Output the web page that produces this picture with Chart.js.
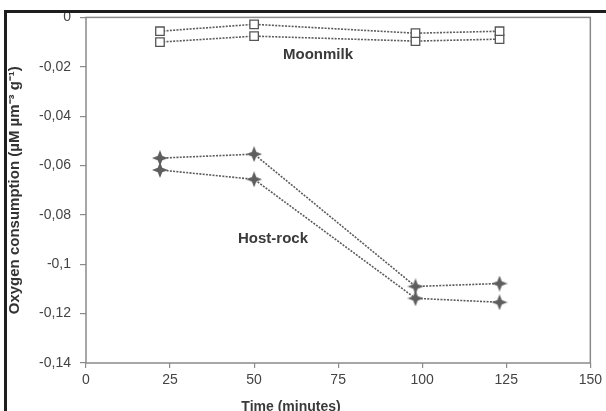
<!DOCTYPE html>
<html>
<head>
<meta charset="utf-8">
<script src="https://cdn.jsdelivr.net/npm/chart.js@4/dist/chart.umd.min.js"></script>
<style>
  html, body { margin: 0; padding: 0; background: #fff; }
  #wrap { width: 606px; height: 411px; }
</style>
</head>
<body>
<div id="wrap"><canvas id="c" width="606" height="411"></canvas></div>
<script>
// ---- data ----
const timeMinutes = [22, 50, 98, 123];
const moonmilkA = [-0.0056, -0.0028, -0.0064, -0.0056];
const moonmilkB = [-0.0100, -0.0076, -0.0096, -0.0088];
const hostRockA = [-0.0570, -0.0554, -0.1090, -0.1078];
const hostRockB = [-0.0618, -0.0656, -0.1138, -0.1154];
const xTicks = [0, 25, 50, 75, 100, 125, 150];
const yTicks = [0, -0.02, -0.04, -0.06, -0.08, -0.1, -0.12, -0.14];
const yTitle = "Oxygen consumption (µM µm⁻³ g⁻¹)";
const xTitle = "Time (minutes)";
const labelMoonmilk = "Moonmilk";
const labelHostRock = "Host-rock";

// 4-point star marker
function makeStar(size, color) {
  const cv = document.createElement('canvas');
  cv.width = size; cv.height = size;
  const g = cv.getContext('2d');
  const c = size / 2, r = size / 2, ri = size * 0.2;
  g.fillStyle = color;
  g.beginPath();
  for (let i = 0; i < 8; i++) {
    const ang = -Math.PI / 2 + i * Math.PI / 4;
    const rr = i % 2 === 0 ? r : ri;
    const px = c + rr * Math.cos(ang), py = c + rr * Math.sin(ang);
    if (i === 0) g.moveTo(px, py); else g.lineTo(px, py);
  }
  g.closePath();
  g.fill();
  return cv;
}
const star = makeStar(16, '#5e5e5e');

function toXY(xs, ys) { return xs.map((x, i) => ({ x: x, y: ys[i] })); }

const lineBase = {
  showLine: true,
  borderColor: '#5c5c5c',
  borderWidth: 1.6,
  borderDash: [2, 1.3],
  tension: 0,
  fill: false
};
const mmPoint = { pointStyle: 'rect', pointRadius: 6, pointBackgroundColor: '#fff', pointBorderColor: '#555', pointBorderWidth: 1.3 };
const hrPoint = { pointStyle: star, pointRadius: 8 };

const frame = {
  id: 'frame',
  beforeDraw(chart) {
    const ctx = chart.ctx;
    ctx.save();
    ctx.fillStyle = '#fff';
    ctx.fillRect(0, 0, chart.width, chart.height);
    ctx.restore();
  },
  afterDraw(chart) {
    const ctx = chart.ctx, a = chart.chartArea;
    ctx.save();
    // outer black frame (top & left)
    ctx.fillStyle = '#1e1e1e';
    ctx.fillRect(4, 10, chart.width - 4, 3);
    ctx.fillRect(4, 10, 3, chart.height - 10);
    // plot frame
    ctx.strokeStyle = '#8a8a8a';
    ctx.lineWidth = 1.5;
    ctx.strokeRect(a.left, a.top, a.right - a.left, a.bottom - a.top);
    // annotations
    ctx.fillStyle = '#3a3a3a';
    ctx.font = 'bold 15px "Liberation Sans", Arial, sans-serif';
    ctx.textAlign = 'center';
    ctx.textBaseline = 'middle';
    ctx.fillText(labelMoonmilk, 318, 55);
    ctx.fillText(labelHostRock, 273, 239);
    ctx.font = 'bold 14px "Liberation Sans", Arial, sans-serif';
    ctx.fillText(xTitle, 291, 407);
    ctx.restore();
  }
};

new Chart(document.getElementById('c'), {
  type: 'scatter',
  data: {
    datasets: [
      Object.assign({ label: 'Moonmilk A', data: toXY(timeMinutes, moonmilkA) }, lineBase, mmPoint),
      Object.assign({ label: 'Moonmilk B', data: toXY(timeMinutes, moonmilkB) }, lineBase, mmPoint),
      Object.assign({ label: 'Host-rock A', data: toXY(timeMinutes, hostRockA) }, lineBase, hrPoint),
      Object.assign({ label: 'Host-rock B', data: toXY(timeMinutes, hostRockB) }, lineBase, hrPoint)
    ]
  },
  options: {
    responsive: false,
    devicePixelRatio: 1,
    animation: false,
    layout: { padding: { left: 4, top: 15, right: 3, bottom: 0 } },
    plugins: { legend: { display: false }, tooltip: { enabled: false } },
    scales: {
      x: {
        type: 'linear', min: 0, max: 150,
        afterBuildTicks(s) { s.ticks = xTicks.map(v => ({ value: v })); },
        afterFit(s) { s.height = 48; },
        grid: { display: true, drawOnChartArea: false, drawTicks: true, tickLength: 5, color: '#8a8a8a', lineWidth: 1.2 },
        border: { display: false },
        ticks: { color: '#444', font: { size: 14, family: '"Liberation Sans", Arial, sans-serif' }, padding: 4, maxRotation: 0, autoSkip: false,
                 callback: v => String(v) }
      },
      y: {
        type: 'linear', min: -0.14, max: 0,
        afterBuildTicks(s) { s.ticks = yTicks.map(v => ({ value: v })); },
        afterFit(s) { s.width = 82; },
        grid: { display: true, drawOnChartArea: false, drawTicks: true, tickLength: 6, color: '#8a8a8a', lineWidth: 1.2 },
        border: { display: false },
        title: { display: true, text: yTitle, color: '#333', font: { size: 15, weight: 'bold', family: '"Liberation Sans", Arial, sans-serif' }, padding: { top: 2, bottom: 0 } },
        ticks: { color: '#444', font: { size: 14, family: '"Liberation Sans", Arial, sans-serif' }, padding: 9, autoSkip: false,
                 callback: v => String(Math.round(v * 100) / 100).replace('.', ',') }
      }
    }
  },
  plugins: [frame]
});
</script>
</body>
</html>
